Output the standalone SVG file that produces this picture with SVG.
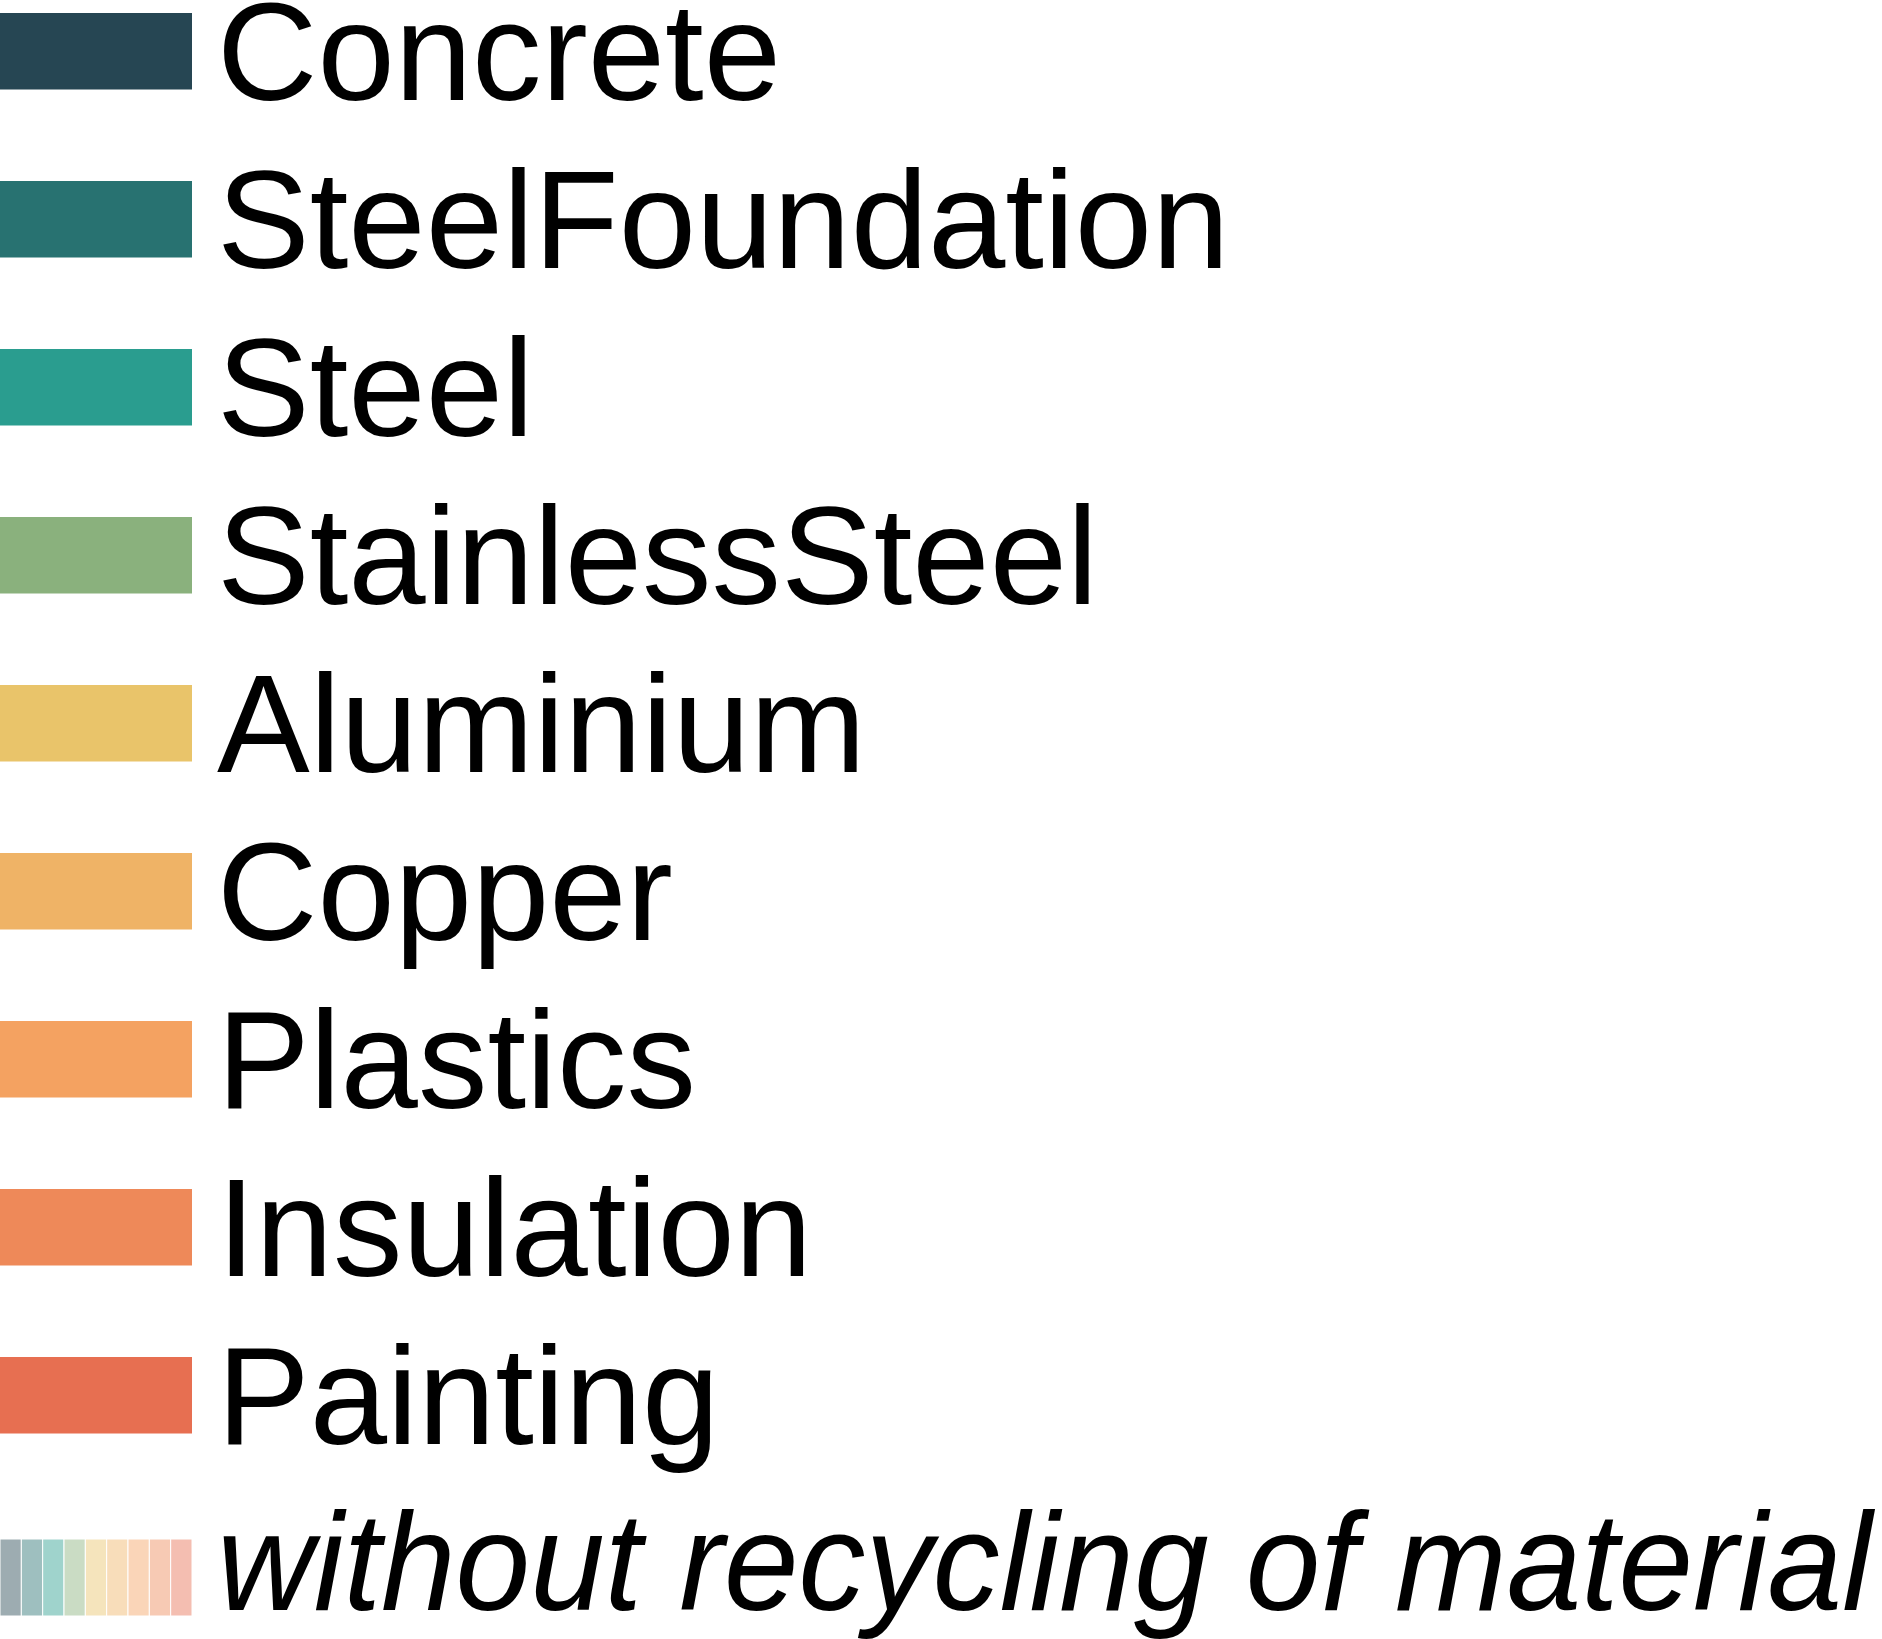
<svg xmlns="http://www.w3.org/2000/svg" width="1882" height="1639" viewBox="0 0 1882 1639">
<style>
  text { font-family: "Liberation Sans", Arial, sans-serif; font-size: 139px; fill: #000; }
  .it { font-style: italic; }
  .sw { stroke: none; }
  .st { stroke: #fff; stroke-width: 1; fill-opacity: 0.45; }
</style>
<rect width="1882" height="1639" fill="#fff"/>
<g id="concrete"><rect class="sw" x="0" y="13" width="192" height="76.5" fill="#264653"/><text x="217" y="100">Concrete</text></g>
<g id="steelfoundation"><rect class="sw" x="0" y="181" width="192" height="76.5" fill="#287271"/><text x="217" y="268">SteelFoundation</text></g>
<g id="steel"><rect class="sw" x="0" y="349" width="192" height="76.5" fill="#2a9d8f"/><text x="217" y="436">Steel</text></g>
<g id="stainlesssteel"><rect class="sw" x="0" y="517" width="192" height="76.5" fill="#8ab17d"/><text x="217" y="604">StainlessSteel</text></g>
<g id="aluminium"><rect class="sw" x="0" y="685" width="192" height="76.5" fill="#e9c46a"/><text x="217" y="772">Aluminium</text></g>
<g id="copper"><rect class="sw" x="0" y="853" width="192" height="76.5" fill="#efb366"/><text x="217" y="940">Copper</text></g>
<g id="plastics"><rect class="sw" x="0" y="1021" width="192" height="76.5" fill="#f4a261"/><text x="217" y="1108">Plastics</text></g>
<g id="insulation"><rect class="sw" x="0" y="1189" width="192" height="76.5" fill="#ee8959"/><text x="217" y="1276">Insulation</text></g>
<g id="painting"><rect class="sw" x="0" y="1357" width="192" height="76.5" fill="#e76f51"/><text x="217" y="1444">Painting</text></g>
<g id="without-recycling">
  <rect class="st" x="0" y="1539" width="21.33" height="77" fill="#264653"/>
  <rect class="st" x="21.33" y="1539" width="21.33" height="77" fill="#287271"/>
  <rect class="st" x="42.67" y="1539" width="21.33" height="77" fill="#2a9d8f"/>
  <rect class="st" x="64" y="1539" width="21.33" height="77" fill="#8ab17d"/>
  <rect class="st" x="85.33" y="1539" width="21.33" height="77" fill="#e9c46a"/>
  <rect class="st" x="106.67" y="1539" width="21.33" height="77" fill="#efb366"/>
  <rect class="st" x="128" y="1539" width="21.33" height="77" fill="#f4a261"/>
  <rect class="st" x="149.33" y="1539" width="21.33" height="77" fill="#ee8959"/>
  <rect class="st" x="170.67" y="1539" width="21.33" height="77" fill="#e76f51"/>
  <text class="it" x="217" y="1610" textLength="1655" lengthAdjust="spacingAndGlyphs">without recycling of material</text>
</g>
<g id="connectors"></g>
</svg>
